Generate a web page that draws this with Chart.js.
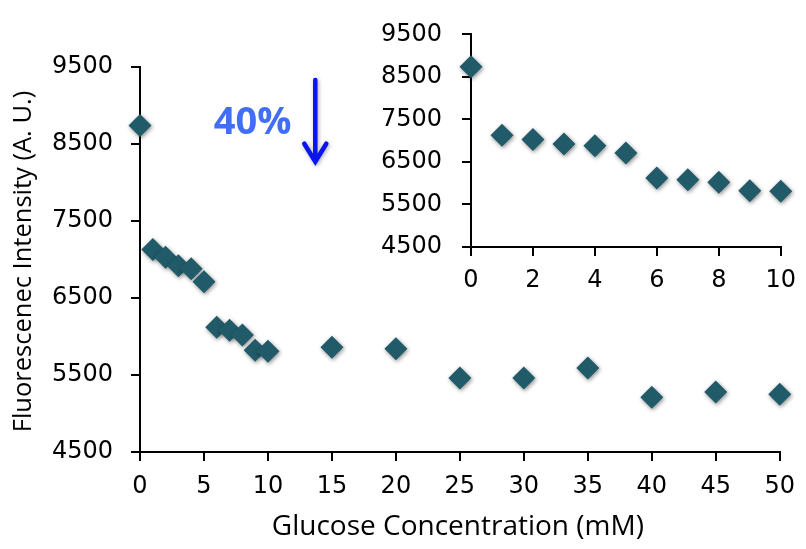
<!DOCTYPE html>
<html>
<head>
<meta charset="utf-8">
<script src="https://cdn.jsdelivr.net/npm/chart.js@4/dist/chart.umd.min.js"></script>
<style>
  html, body { margin: 0; padding: 0; background: #fff; }
  #wrap { position: relative; width: 806px; height: 549px; }
  #main { position: absolute; left: 0; top: 0; }
  #inset { position: absolute; left: 360px; top: 0; }
</style>
</head>
<body>
<div id="wrap">
  <canvas id="main" width="806" height="549"></canvas>
  <canvas id="inset" width="446" height="310"></canvas>
</div>
<script>
// ---- data ----
const glucose = [0, 1, 2, 3, 4, 5, 6, 7, 8, 9, 10, 15, 20, 25, 30, 35, 40, 45, 50];
const intensity = [8740, 7130, 7030, 6920, 6880, 6710, 6120, 6080, 6020, 5820, 5810, 5860, 5840, 5460, 5460, 5590, 5210, 5280, 5250];
const mainXTicks = [0, 5, 10, 15, 20, 25, 30, 35, 40, 45, 50];
const insetXTicks = [0, 2, 4, 6, 8, 10];
const yTicks = [4500, 5500, 6500, 7500, 8500, 9500];
const insetMaxX = 10;
const xTitle = 'Glucose Concentration (mM)';
const yTitle = 'Fluorescenec Intensity (A. U.)';
const changeLabel = '40%';
const arrowAt = { x: 13.7, from: 9330, to: 8270 };
const labelAt = { x: 8.8, y: 8770 };

const markerColor = '#215a68';
const tickFont = { family: '"DejaVu Sans", Verdana, sans-serif', size: 24 };

const mainPoints = glucose.map((g, i) => ({ x: g, y: intensity[i] }));
const insetPoints = glucose.map((g, i) => ({ x: g, y: intensity[i] })).filter(p => p.x <= insetMaxX);

const shadowPlugin = {
  id: 'shadow',
  beforeDatasetsDraw(chart) {
    const ctx = chart.ctx;
    ctx.save();
    ctx.shadowColor = 'rgba(0,0,0,0.45)';
    ctx.shadowBlur = 4;
    ctx.shadowOffsetX = 1;
    ctx.shadowOffsetY = 1.5;
  },
  afterDatasetsDraw(chart) { chart.ctx.restore(); }
};

function scaleSet(xTicks, xMin, xMax, yWidth, xHeight, yPad, xPad) {
  return {
    x: {
      type: 'linear', min: xMin, max: xMax,
      afterBuildTicks: s => { s.ticks = xTicks.map(v => ({ value: v })); },
      afterFit: s => { s.height = xHeight; },
      grid: { display: true, drawOnChartArea: false, drawTicks: true, tickLength: 9, color: '#000', lineWidth: 2 },
      border: { display: true, color: '#000', width: 2 },
      ticks: { color: '#000', font: tickFont, padding: xPad, maxRotation: 0, autoSkip: false, callback: v => String(v) }
    },
    y: {
      type: 'linear', min: 4500, max: 9500,
      afterBuildTicks: s => { s.ticks = yTicks.map(v => ({ value: v })); },
      afterFit: s => { s.width = yWidth; },
      grid: { display: true, drawOnChartArea: false, drawTicks: true, tickLength: 9, color: '#000', lineWidth: 2 },
      border: { display: true, color: '#000', width: 2 },
      ticks: { color: '#000', font: tickFont, padding: yPad, autoSkip: false, callback: v => String(v) }
    }
  };
}

const annotPlugin = {
  id: 'annot',
  afterDraw(chart) {
    const { ctx, chartArea, scales: { x, y } } = chart;
    ctx.save();
    // axis titles
    ctx.fillStyle = '#000';
    ctx.font = '28px "Open Sans"';
    ctx.textAlign = 'center';
    ctx.textBaseline = 'middle';
    ctx.fillText(xTitle, (chartArea.left + chartArea.right) / 2 - 2, 527);
    ctx.save();
    ctx.translate(24, (chartArea.top + chartArea.bottom) / 2 + 2);
    ctx.rotate(-Math.PI / 2);
    ctx.font = '25.5px "Open Sans"';
    ctx.fillText(yTitle, 0, 0);
    ctx.restore();
    // 40% label
    ctx.fillStyle = '#426ef5';
    ctx.font = 'bold 38px "Open Sans"';
    ctx.fillText(changeLabel, x.getPixelForValue(labelAt.x), y.getPixelForValue(labelAt.y));
    // arrow
    const ax = x.getPixelForValue(arrowAt.x);
    const y1 = y.getPixelForValue(arrowAt.from);
    const y2 = y.getPixelForValue(arrowAt.to);
    ctx.shadowColor = 'rgba(0,0,0,0.35)';
    ctx.shadowBlur = 4;
    ctx.shadowOffsetX = 1;
    ctx.shadowOffsetY = 1;
    ctx.strokeStyle = '#0a14f0';
    ctx.lineWidth = 4.5;
    ctx.lineCap = 'round';
    ctx.beginPath();
    ctx.moveTo(ax, y1);
    ctx.lineTo(ax, y2 - 1);
    ctx.moveTo(ax - 11, y2 - 18);
    ctx.lineTo(ax, y2);
    ctx.lineTo(ax + 11, y2 - 18);
    ctx.stroke();
    ctx.restore();
  }
};

const ds = (data) => ({
  data,
  showLine: false,
  pointStyle: 'rectRot',
  pointRadius: 11.5,
  pointHoverRadius: 11.5,
  pointBackgroundColor: markerColor,
  pointBorderColor: markerColor,
  pointBorderWidth: 0,
  clip: false
});

new Chart(document.getElementById('main'), {
  type: 'scatter',
  data: { datasets: [ds(mainPoints)] },
  options: {
    responsive: false, animation: false,
    layout: { padding: { top: 67, right: 26, bottom: 0, left: 0 } },
    plugins: { legend: { display: false }, tooltip: { enabled: false } },
    scales: scaleSet(mainXTicks, 0, 50, 140, 97, 18, 11)
  },
  plugins: [shadowPlugin, annotPlugin]
});

new Chart(document.getElementById('inset'), {
  type: 'scatter',
  data: { datasets: [ds(insetPoints)] },
  options: {
    responsive: false, animation: false,
    layout: { padding: { top: 20, right: 24, bottom: 0, left: 0 } },
    plugins: { legend: { display: false }, tooltip: { enabled: false } },
    scales: scaleSet(insetXTicks, 0, 10, 111, 63, 20, 10)
  },
  plugins: [shadowPlugin]
});
</script>
</body>
</html>
